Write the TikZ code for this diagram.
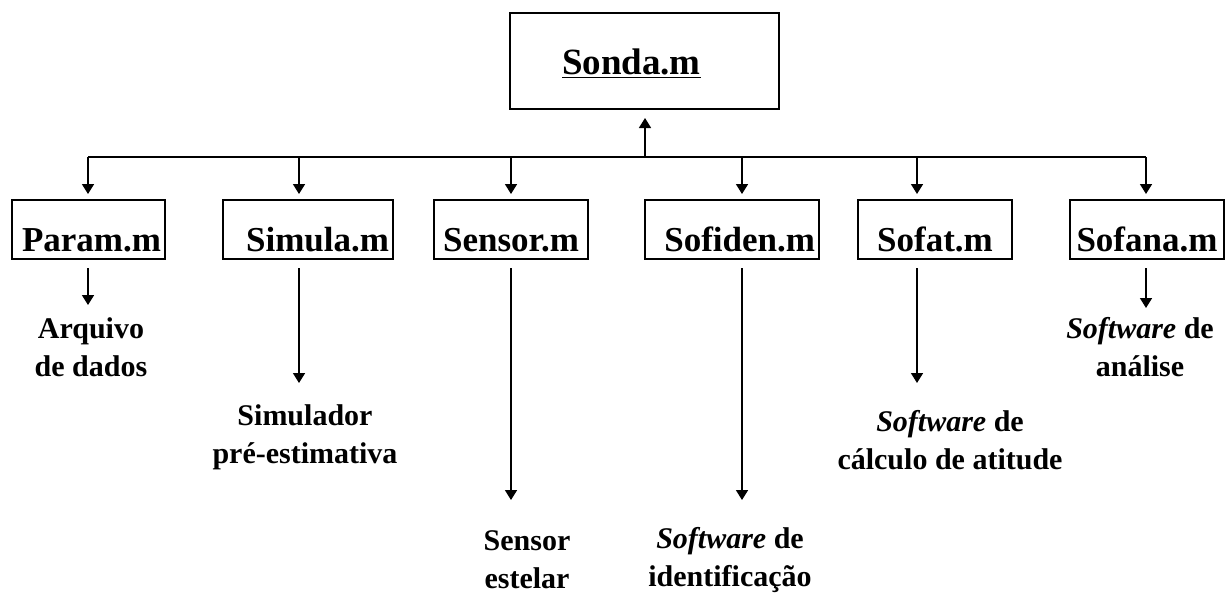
\documentclass[tikz,border=0pt]{standalone}
\usepackage{fontspec}
\setmainfont{Liberation Serif}
\usetikzlibrary{positioning,arrows.meta}

\begin{document}
\begin{tikzpicture}[
        x=0.5pt, y=-0.5pt,
        box/.style={rectangle, draw, line width=1pt, inner xsep=2pt, inner ysep=0pt, text height=25.5pt, text depth=4pt, font=\fontsize{17.5}{20}\selectfont\bfseries},
        mainbox/.style={rectangle, draw, line width=1pt, text width=130.5pt, align=left, inner xsep=2pt, inner ysep=0pt, text height=30.5pt, text depth=17.5pt, font=\fontsize{18.5}{22}\selectfont\bfseries},
        desc/.style={align=center, inner sep=0pt, font=\fontsize{15}{19}\selectfont\bfseries},
        arrow/.style={-{Triangle[length=5pt,width=6pt]}, line width=0.8pt},
        link/.style={line width=0.8pt}
    ]

    \useasboundingbox (0,0) rectangle (1227,601);

    % Nodes
    \node[mainbox] (sonda) at (644.5,61) {\hspace*{24pt}\underline{Sonda.m}};

    \node[box, text width=72.5pt, align=right] (param) at (88.5,229.5) {Param.m};
    \node[box, text width=81pt, align=right] (simula) at (308,229.5) {Simula.m};
    \node[box, text width=73pt, align=center] (sensor) at (511,229.5) {Sensor.m};
    \node[box, text width=83pt, align=right] (sofiden) at (732,229.5) {Sofiden.m};
    \node[box, text width=73pt, align=center] (sofat) at (935,229.5) {Sofat.m};
    \node[box, text width=73pt, align=center] (sofana) at (1147,229.5) {Sofana.m};

    \node[desc] (arquivo) at (91,347) {Arquivo\\de dados};
    \node[desc] (simulador) at (305,437) {Simulador\\pré-estimativa};
    \node[desc] (estelar) at (527,560) {Sensor\\estelar};
    \node[desc] (identif) at (730,560) {\textit{Software} de\\identificação};
    \node[desc] (calculo) at (950,440) {\textit{Software} de\\cálculo de atitude};
    \node[desc] (analise) at (1140,347) {\textit{Software} de\\análise};

    % Junctions on the bus
    \coordinate (jSonda) at (645,157);
    \coordinate (jParam) at (88,157);
    \coordinate (jSimula) at (299,157);
    \coordinate (jSensor) at (511,157);
    \coordinate (jSofiden) at (742,157);
    \coordinate (jSofat) at (917,157);
    \coordinate (jSofana) at (1146,157);

    % Arrow tips above the descriptions
    \coordinate (tParam) at (88,305);
    \coordinate (tSimula) at (299,383);
    \coordinate (tSensor) at (511,500);
    \coordinate (tSofiden) at (742,500);
    \coordinate (tSofat) at (917,383);
    \coordinate (tSofana) at (1146,308);

    % Arrows
    \draw[link] (jParam) -- (jSofana);
    \draw[arrow, shorten >=4pt] (jSonda) -- (jSonda |- sonda.south);

    \draw[arrow, shorten >=2.5pt] (jParam) -- (jParam |- param.north);
    \draw[arrow, shorten >=2.5pt] (jSimula) -- (jSimula |- simula.north);
    \draw[arrow, shorten >=2.5pt] (jSensor) -- (jSensor |- sensor.north);
    \draw[arrow, shorten >=2.5pt] (jSofiden) -- (jSofiden |- sofiden.north);
    \draw[arrow, shorten >=2.5pt] (jSofat) -- (jSofat |- sofat.north);
    \draw[arrow, shorten >=2.5pt] (jSofana) -- (jSofana |- sofana.north);

    \draw[arrow, shorten <=4pt] (tParam |- param.south) -- (tParam);
    \draw[arrow, shorten <=4pt] (tSimula |- simula.south) -- (tSimula);
    \draw[arrow, shorten <=4pt] (tSensor |- sensor.south) -- (tSensor);
    \draw[arrow, shorten <=4pt] (tSofiden |- sofiden.south) -- (tSofiden);
    \draw[arrow, shorten <=4pt] (tSofat |- sofat.south) -- (tSofat);
    \draw[arrow, shorten <=4pt] (tSofana |- sofana.south) -- (tSofana);

\end{tikzpicture}
\end{document}
